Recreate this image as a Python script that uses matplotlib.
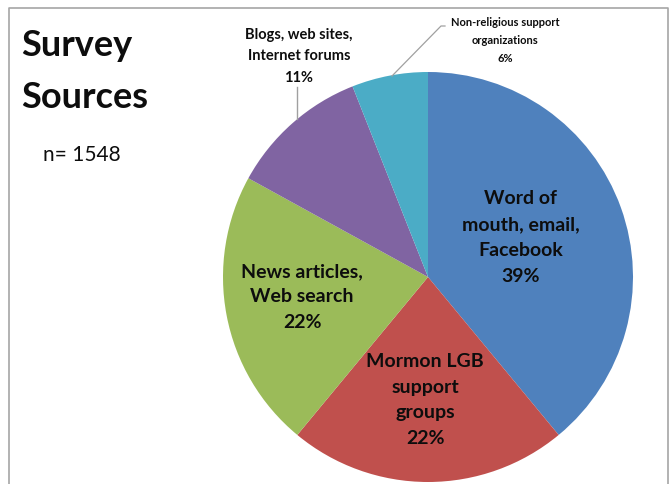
import matplotlib.pyplot as plt

# survey data
sources = ["Word of\nmouth, email,\nFacebook",
           "Mormon LGB\nsupport\ngroups",
           "News articles,\nWeb search",
           "Blogs, web sites,\nInternet forums",
           "Non-religious support\norganizations"]
shares = [39, 22, 22, 11, 6]
colors = ["#4F81BD", "#C0504D", "#9BBB59", "#8064A2", "#4BACC6"]
n_resp = 1548

W, H = 671, 485
plt.rcParams['font.family'] = ['Lato', 'DejaVu Sans']

fig = plt.figure(figsize=(W / 100, H / 100), dpi=100)
ax = fig.add_axes([0, 0, 1, 1])

def py(y):
    # pixel row (from top) -> data y
    return H - y

# pie, clockwise from 12 o'clock
ax.pie(shares, colors=colors, startangle=90, counterclock=False,
       center=(428, py(278)), radius=205, frame=True,
       wedgeprops=dict(linewidth=0))
ax.set_xlim(0, W)
ax.set_ylim(0, H)
ax.set_aspect('equal')
ax.axis('off')

# gray frame (bottom edge is cut off in original)
ax.plot([9, 9, 668, 668], [py(H + 5), py(9), py(9), py(H + 5)],
        color="#A6A6A6", lw=1.2, clip_on=False)

def lines(x, y0, dy, txt, size, weight='bold'):
    for i, s in enumerate(txt.split("\n")):
        ax.text(x, py(y0 + i * dy), s, ha='center', va='center',
                fontsize=size, fontweight=weight, color="#0D0D0D")

# labels inside the slices
lines(521, 198, 26.3, sources[0] + "\n%d%%" % shares[0], 14)
lines(425, 362, 25.5, sources[1] + "\n%d%%" % shares[1], 14)
lines(302, 272, 25.0, sources[2] + "\n%d%%" % shares[2], 14)

# outside labels with leader lines
lines(299, 35, 21.5, sources[3] + "\n%d%%" % shares[3], 10.5)
ax.plot([297, 297], [py(88), py(120)], color="#A0A0A0", lw=1)

lines(505, 22, 18, sources[4] + "\n%d%%" % shares[4], 8)
ax.plot([392, 441, 445], [py(77), py(27), py(27)], color="#A0A0A0", lw=0.9)

# title
ax.text(21, py(45), "Survey", ha='left', va='center', fontsize=26,
        fontweight='bold', color="#0D0D0D")
ax.text(21, py(97), "Sources", ha='left', va='center', fontsize=26,
        fontweight='bold', color="#0D0D0D")
ax.text(43, py(155), "n= %d" % n_resp, ha='left', va='center', fontsize=15,
        color="#0D0D0D")

fig.savefig("out.png", dpi=100)
